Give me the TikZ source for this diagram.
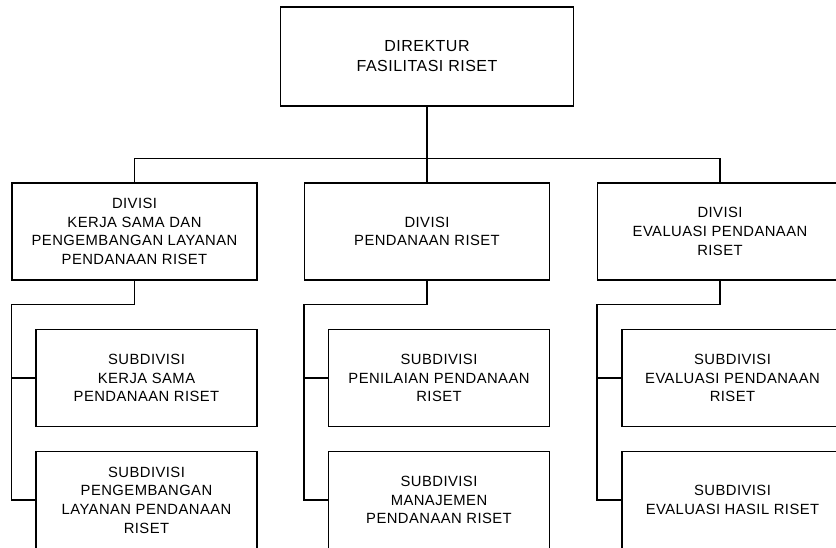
\documentclass[tikz,border=0pt]{standalone}
\usepackage{fontspec}
\setmainfont{Liberation Sans}[LetterSpace=3]
\usetikzlibrary{calc}
\begin{document}
\begin{tikzpicture}[x=1pt,y=1pt,
  orgbox/.style={draw, line width=1.2pt, inner sep=0pt, align=center,
    font=\fontsize{14.8}{18.7}\selectfont},
  head/.style={orgbox, minimum width=293, minimum height=99,
    font=\fontsize{16}{20}\selectfont},
  division/.style={orgbox, minimum width=245, minimum height=97},
  subdivision/.style={orgbox, minimum width=221, minimum height=97},
  link/.style={line width=1.2pt}]
\clip (0,0) rectangle (836,-548);

% director
\node[head] (dir) at (427,-56.5) {DIREKTUR\\FASILITASI RISET};

% divisions
\node[division] (divA) at (134.5,-231.5) {DIVISI\\KERJA SAMA DAN\\PENGEMBANGAN LAYANAN\\PENDANAAN RISET};
\node[division] (divB) at (427,-231.5) {DIVISI\\PENDANAAN RISET};
\node[division] (divC) at (720,-231.5) {DIVISI\\EVALUASI PENDANAAN\\RISET};

% subdivisions
\node[subdivision] (subA1) at (146.5,-378) {SUBDIVISI\\KERJA SAMA\\PENDANAAN RISET};
\node[subdivision] (subA2) at (146.5,-500) {SUBDIVISI\\PENGEMBANGAN\\LAYANAN PENDANAAN\\RISET};
\node[subdivision] (subB1) at (439,-378) {SUBDIVISI\\PENILAIAN PENDANAAN\\RISET};
\node[subdivision] (subB2) at (439,-500) {SUBDIVISI\\MANAJEMEN\\PENDANAAN RISET};
\node[subdivision] (subC1) at (732.5,-378) {SUBDIVISI\\EVALUASI PENDANAAN\\RISET};
\node[subdivision] (subC2) at (732.5,-500) {SUBDIVISI\\EVALUASI HASIL RISET};

% director to divisions
\coordinate (bus) at (0,-158.5);
\draw[link] (dir.south) -- (divB.north);
\draw[link] (divA.north) |- (bus -| divB.north) -| (divC.north);

% divisions to subdivisions
\foreach \d/\s/\t in {divA/subA1/subA2, divB/subB1/subB2, divC/subC1/subC2} {
  \draw[link] (\d.south) -- ($(\d.south)+(0,-24)$) -| (\d.south west |- \t.west) -- (\t.west);
  \draw[link] (\d.south west |- \s.west) -- (\s.west);
}
\end{tikzpicture}
\end{document}
